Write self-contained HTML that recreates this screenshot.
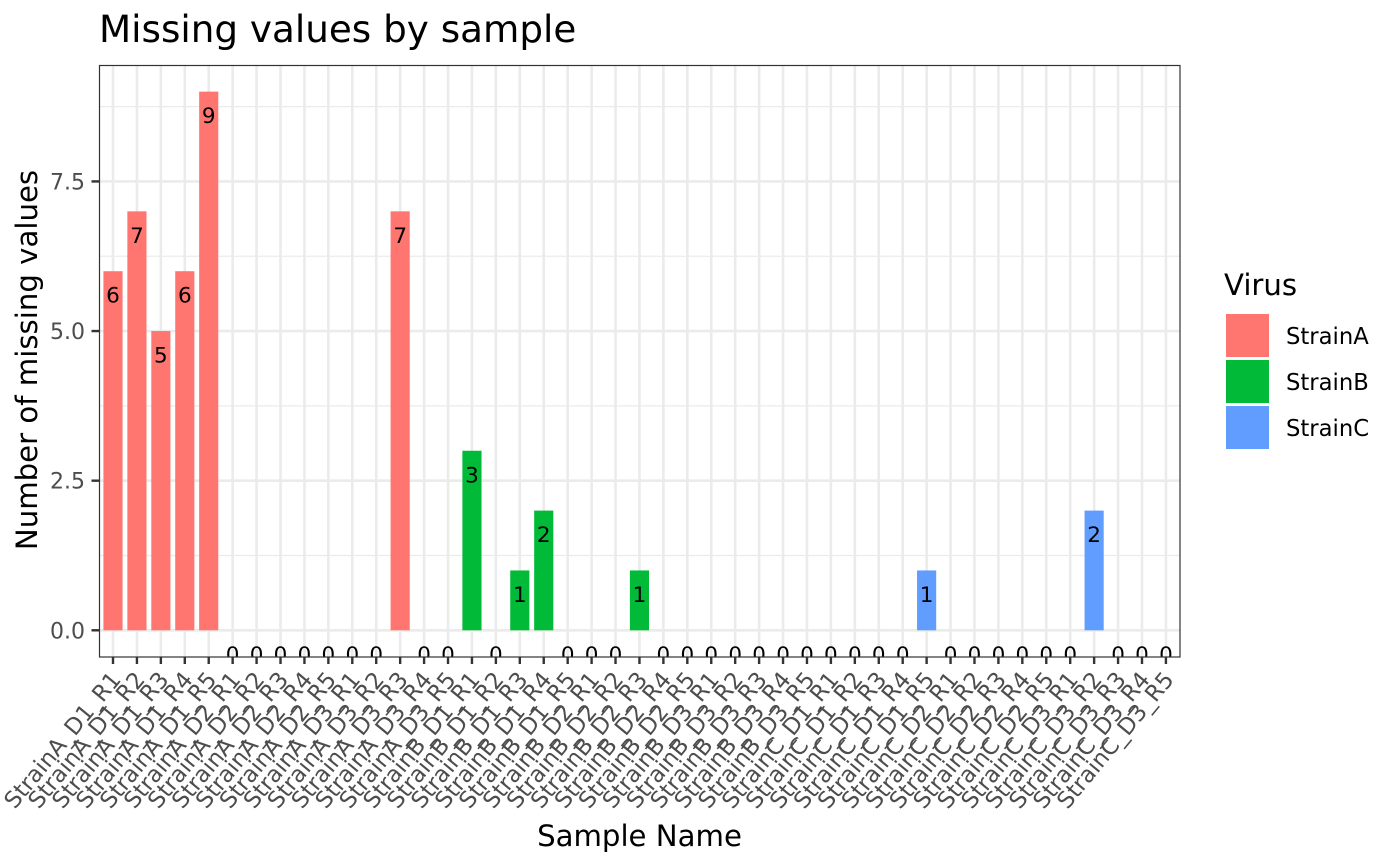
<!DOCTYPE html>
<html>
<head>
<meta charset="utf-8">
<style>
html,body{margin:0;padding:0;background:#fff;}
svg{display:block;}
text{font-family:"DejaVu Sans","Liberation Sans",sans-serif;}
</style>
</head>
<body>
<svg id="chart" xmlns="http://www.w3.org/2000/svg" width="1400" height="866" viewBox="0 0 1400 866">
<defs><clipPath id="panel-clip"><rect x="99" y="65" width="1081" height="592"/></clipPath></defs>
<rect x="0" y="0" width="1400" height="866" fill="#ffffff"/>
<text x="99" y="42" font-size="37.3" fill="#000">Missing values by sample</text>
<g id="grid"></g>
<g id="bars" clip-path="url(#panel-clip)"></g>
<g id="labels" clip-path="url(#panel-clip)"></g>
<rect x="99.5" y="65.5" width="1080.5" height="591.5" fill="none" stroke="#333333" stroke-width="1.2"/>
<g id="axes"></g>
<text x="639.5" y="846" font-size="29.2" text-anchor="middle" fill="#000">Sample Name</text>
<text transform="translate(37,360) rotate(-90)" font-size="29.2" text-anchor="middle" fill="#000">Number of missing values</text>
<g id="legend"></g>
</svg>
<script>
const samples = [
"StrainA_D1_R1","StrainA_D1_R2","StrainA_D1_R3","StrainA_D1_R4","StrainA_D1_R5",
"StrainA_D2_R1","StrainA_D2_R2","StrainA_D2_R3","StrainA_D2_R4","StrainA_D2_R5",
"StrainA_D3_R1","StrainA_D3_R2","StrainA_D3_R3","StrainA_D3_R4","StrainA_D3_R5",
"StrainB_D1_R1","StrainB_D1_R2","StrainB_D1_R3","StrainB_D1_R4","StrainB_D1_R5",
"StrainB_D2_R1","StrainB_D2_R2","StrainB_D2_R3","StrainB_D2_R4","StrainB_D2_R5",
"StrainB_D3_R1","StrainB_D3_R2","StrainB_D3_R3","StrainB_D3_R4","StrainB_D3_R5",
"StrainC_D1_R1","StrainC_D1_R2","StrainC_D1_R3","StrainC_D1_R4","StrainC_D1_R5",
"StrainC_D2_R1","StrainC_D2_R2","StrainC_D2_R3","StrainC_D2_R4","StrainC_D2_R5",
"StrainC_D3_R1","StrainC_D3_R2","StrainC_D3_R3","StrainC_D3_R4","StrainC_D3_R5"
];
const missing = [
6,7,5,6,9, 0,0,0,0,0, 0,0,7,0,0,
3,0,1,2,0, 0,0,1,0,0, 0,0,0,0,0,
0,0,0,0,1, 0,0,0,0,0, 0,2,0,0,0
];
const strains = ["StrainA","StrainB","StrainC"];
const strainColors = ["#FF7670","#00BA38","#619CFF"];
const yTicks = [0,2.5,5,7.5];
const yTickLabels = ["0.0","2.5","5.0","7.5"];
const yMinor = [1.25,3.75,6.25,8.75];

const NS = "http://www.w3.org/2000/svg";
function xPos(i){ return 113 + i * 23.93; }
function yPos(v){ return 630.3 - v * 59.85; }
const bandW = 23.93 * 0.8;
function mk(parent, tag, attrs, txt){
  const e = document.createElementNS(NS, tag);
  for (const k in attrs) e.setAttribute(k, attrs[k]);
  if (txt !== undefined) e.textContent = txt;
  parent.appendChild(e);
  return e;
}
const grid = document.getElementById("grid");
const bars = document.getElementById("bars");
const labels = document.getElementById("labels");
const axes = document.getElementById("axes");
const legend = document.getElementById("legend");

yMinor.forEach(function(v){
  const l = mk(grid, "line", {x1:99, x2:1180, y1:yPos(v), y2:yPos(v), stroke:"#ebebeb", "stroke-width":1.3});
  
  
});
yTicks.forEach(function(v){
  const l = mk(grid, "line", {x1:99, x2:1180, y1:yPos(v), y2:yPos(v), stroke:"#ebebeb", "stroke-width":2.6});
  
  
});
samples.forEach(function(s, i){
  const l = mk(grid, "line", {x1:xPos(i), x2:xPos(i), y1:65, y2:657, stroke:"#ebebeb", "stroke-width":2.6});
  
  
});

samples.forEach(function(s, i){
  const v = missing[i];
  const c = strainColors[strains.indexOf(s.split("_")[0])];
  const b = mk(bars, "rect", {x:xPos(i)-bandW/2, y:yPos(v), width:bandW, height:yPos(0)-yPos(v), fill:c});
  
  
  const t = mk(labels, "text", {x:xPos(i), y:yPos(v)+31.5, "font-size":21.5, "text-anchor":"middle", fill:"#000"}, String(v));
  
  
});

yTicks.forEach(function(v, i){
  const l = mk(axes, "line", {x1:91.5, x2:99, y1:yPos(v), y2:yPos(v), stroke:"#333333", "stroke-width":2.4});
  
  
  const t = mk(axes, "text", {x:85, y:yPos(v)+8, "font-size":22, "text-anchor":"end", fill:"#4d4d4d"}, yTickLabels[i]);
  
  
});
samples.forEach(function(s, i){
  const l = mk(axes, "line", {x1:xPos(i), x2:xPos(i), y1:657, y2:664, stroke:"#333333", "stroke-width":2.4});
  
  
  const t = mk(axes, "text", {transform:"translate("+(xPos(i)+9)+",680) rotate(-50.5)", "font-size":22.8, "text-anchor":"end", fill:"#4d4d4d"}, s);
  
  
});

const title = mk(legend, "text", {x:1224, y:295, "font-size":29.2, fill:"#000"}, "Virus");


strains.forEach(function(s, i){
  const y = 314 + i * 46;
  const r = mk(legend, "rect", {x:1226, y:y, width:43, height:43, fill:strainColors[i]});
  
  
  const t = mk(legend, "text", {x:1286, y:y+30, "font-size":22.7, fill:"#000"}, s);
  
  
});
</script>
</body>
</html>
